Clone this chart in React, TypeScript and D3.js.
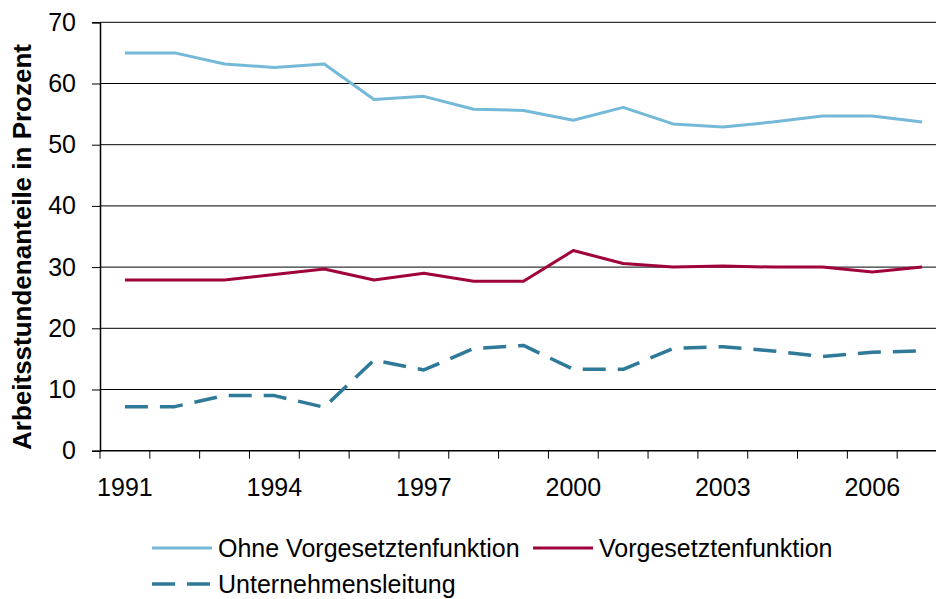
import React, { useEffect, useRef } from 'react';
import * as d3 from 'd3';

const years = ['1991', '1992', '1993', '1994', '1995', '1996', '1997', '1998', '1999', '2000', '2001', '2002', '2003', '2004', '2005', '2006', '2007'];
const labelYears = ['1991', '1994', '1997', '2000', '2003', '2006'];
const yTicks = [0, 10, 20, 30, 40, 50, 60, 70];

const ohneVorgesetzte = [65.0, 65.0, 63.2, 62.6, 63.2, 57.4, 57.9, 55.8, 55.6, 54.0, 56.1, 53.4, 52.9, 53.7, 54.7, 54.7, 53.7];
const vorgesetzte = [27.9, 27.9, 27.9, 28.8, 29.7, 27.9, 29.0, 27.7, 27.7, 32.7, 30.6, 30.0, 30.2, 30.0, 30.0, 29.2, 30.0];
const leitung = [7.2, 7.2, 9.0, 9.0, 7.1, 14.8, 13.2, 16.7, 17.2, 13.3, 13.3, 16.7, 17.0, 16.3, 15.4, 16.1, 16.3];

const series = [
  { name: 'Ohne Vorgesetztenfunktion', values: ohneVorgesetzte, color: '#74b9d7', width: 3, dash: null },
  { name: 'Vorgesetztenfunktion', values: vorgesetzte, color: '#a0033b', width: 3, dash: null },
  { name: 'Unternehmensleitung', values: leitung, color: '#2e7a98', width: 3.5, dash: '23 12' },
];

const App = () => {
  const ref = useRef<SVGSVGElement | null>(null);
  const svgWidth = 936;
  const svgHeight = 599;
  const font = '"Liberation Sans", Arial, sans-serif';

  useEffect(() => {
    const svg = d3.select(ref.current);
    svg.selectAll('*').remove();

    const xScale = d3.scaleBand().domain(years).range([100, 947]).padding(0);
    const yScale = d3.scaleLinear().domain([0, 70]).range([450.7, 22.3]);
    const cx = (y: string) => (xScale(y) as number) + xScale.bandwidth() / 2;

    // gridlines
    svg.append('g')
      .selectAll('line')
      .data(yTicks.filter(t => t > 0))
      .enter()
      .append('line')
      .attr('x1', 100)
      .attr('x2', 947)
      .attr('y1', d => yScale(d))
      .attr('y2', d => yScale(d))
      .attr('stroke', '#000')
      .attr('stroke-width', 1);

    // y axis
    const yAxis = d3.axisLeft(yScale).tickValues(yTicks).tickSize(8).tickPadding(16);
    const yg = svg.append('g').attr('transform', 'translate(100,0)').call(yAxis);
    yg.select('.domain').attr('stroke', '#000').attr('stroke-width', 1.5);
    yg.selectAll('.tick line').attr('stroke', '#000');
    yg.selectAll('.tick text')
      .attr('font-family', font)
      .attr('font-size', 25)
      .attr('fill', '#000');

    // x axis
    const xg = svg.append('g').attr('transform', 'translate(0,450.7)');
    xg.append('line')
      .attr('x1', 100).attr('x2', 947)
      .attr('stroke', '#000').attr('stroke-width', 1.5);
    xg.selectAll('line.tick')
      .data(d3.range(years.length + 1))
      .enter()
      .append('line')
      .attr('class', 'tick')
      .attr('x1', i => 100 + i * xScale.bandwidth())
      .attr('x2', i => 100 + i * xScale.bandwidth())
      .attr('y1', 0)
      .attr('y2', 8)
      .attr('stroke', '#000');
    xg.selectAll('text')
      .data(labelYears)
      .enter()
      .append('text')
      .attr('x', d => cx(d))
      .attr('y', 37)
      .attr('dy', '0.35em')
      .attr('text-anchor', 'middle')
      .attr('font-family', font)
      .attr('font-size', 25)
      .attr('fill', '#000')
      .text(d => d);

    // y title
    svg.append('text')
      .attr('transform', 'translate(22,247) rotate(-90)')
      .attr('text-anchor', 'middle')
      .attr('dy', '0.35em')
      .attr('font-family', font)
      .attr('font-size', 26)
      .attr('font-weight', 'bold')
      .attr('fill', '#000')
      .text('Arbeitsstundenanteile in Prozent');

    // lines
    const line = d3.line<number>()
      .x((d, i) => cx(years[i]))
      .y(d => yScale(d));

    series.forEach(s => {
      svg.append('path')
        .datum(s.values)
        .attr('d', line)
        .attr('fill', 'none')
        .attr('stroke', s.color)
        .attr('stroke-width', s.width)
        .attr('stroke-linejoin', 'round')
        .attr('stroke-dasharray', s.dash);
    });

    // legend
    const legendPos = [
      { x: 152, y: 548 },
      { x: 533, y: 548 },
      { x: 152, y: 584 },
    ];
    series.forEach((s, i) => {
      const p = legendPos[i];
      const lg = svg.append('g').attr('transform', `translate(${p.x},${p.y})`);
      lg.append('line')
        .attr('x1', 0).attr('x2', 60)
        .attr('stroke', s.color)
        .attr('stroke-width', s.width)
        .attr('stroke-dasharray', s.dash);
      lg.append('text')
        .attr('x', 66)
        .attr('dy', '0.35em')
        .attr('font-family', font)
        .attr('font-size', 25)
        .attr('fill', '#000')
        .text(s.name);
    });
  }, []);

  return (
    <svg
      ref={ref}
      width={svgWidth}
      height={svgHeight}
      style={{ position: 'absolute', left: 0, top: 0, background: '#fff' }}
    />
  );
};

export default App;
